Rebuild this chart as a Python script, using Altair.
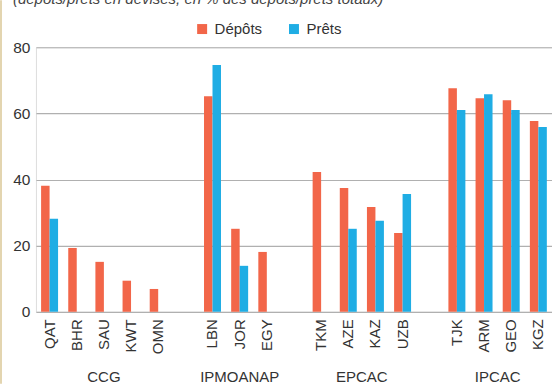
import altair as alt
import pandas as pd

countries = ["QAT", "BHR", "SAU", "KWT", "OMN",
             "LBN", "JOR", "EGY",
             "TKM", "AZE", "KAZ", "UZB",
             "TJK", "ARM", "GEO", "KGZ"]
groups = ["CCG"] * 5 + ["IPMOANAP"] * 3 + ["EPCAC"] * 4 + ["IPCAC"] * 4
depots = [38.1, 19.3, 15.1, 9.4, 6.9,
          65.2, 25.1, 18.1,
          42.3, 37.4, 31.7, 23.8,
          67.6, 64.6, 64.0, 57.7]
prets = [28.1, None, None, None, None,
         74.6, 13.9, None,
         None, 25.1, 27.5, 35.6,
         61.0, 65.8, 61.0, 55.9]

# x domain with empty spacer slots between country groups
x_domain = ["QAT", "BHR", "SAU", "KWT", "OMN", "_1",
            "LBN", "JOR", "EGY", "_2",
            "TKM", "AZE", "KAZ", "UZB", "_3",
            "TJK", "ARM", "GEO", "KGZ"]

group_names = ["CCG", "IPMOANAP", "EPCAC", "IPCAC"]
group_anchor = ["SAU", "JOR", "AZE", "ARM"]     # category under/next to group centre
group_half_shift = [False, False, True, True]   # centre falls between two categories

subtitle = ["(dépôts/prêts en devises, en % des dépôts/prêts totaux)"]

series = ["Dépôts", "Prêts"]
colors = ["#F26649", "#1FADE4"]

rows = []
for c, g, d, p in zip(countries, groups, depots, prets):
    if d is not None:
        rows.append({"pays": c, "groupe": g, "serie": "Dépôts", "valeur": d})
    if p is not None:
        rows.append({"pays": c, "groupe": g, "serie": "Prêts", "valeur": p})
df = pd.DataFrame(rows)

W, H = 517, 265
FONT = "Liberation Sans"

x_scale = alt.Scale(domain=x_domain, paddingInner=0.375, paddingOuter=0.19)

bars = alt.Chart(df).mark_bar().encode(
    x=alt.X("pays:N", scale=x_scale, sort=x_domain,
            axis=alt.Axis(title=None, labelAngle=270, labelAlign="right",
                          labelBaseline="middle", labelPadding=7,
                          labelFontSize=15, labelColor="#333333", labelFont=FONT,
                          ticks=False, domain=False, grid=False,
                          labelExpr="indexof(datum.value, '_') == 0 ? '' : datum.value")),
    xOffset=alt.XOffset("serie:N", scale=alt.Scale(domain=series)),
    y=alt.Y("valeur:Q", scale=alt.Scale(domain=[0, 80]),
            axis=alt.Axis(title=None, values=[0, 20, 40, 60, 80], ticks=False,
                          domain=False, labelFontSize=15.5, labelColor="#333333",
                          labelFont=FONT, labelPadding=6,
                          gridColor="#B0B0B0", gridWidth=1.2)),
    color=alt.Color("serie:N", scale=alt.Scale(domain=series, range=colors),
                    legend=alt.Legend(title=None, orient="none", direction="horizontal",
                                      legendX=159, legendY=-26, symbolType="square",
                                      symbolSize=100, symbolStrokeWidth=0,
                                      labelFontSize=15, labelFont=FONT,
                                      labelColor="#333333", labelOffset=5,
                                      columnPadding=24, padding=0)),
)

gdf = pd.DataFrame({"groupe": group_names, "pays": group_anchor, "shift": group_half_shift})

glabels_a = alt.Chart(gdf[~gdf["shift"]]).mark_text(
    fontSize=15, font=FONT, color="#333333", baseline="alphabetic"
).encode(
    x=alt.X("pays:N", scale=x_scale, sort=x_domain),
    y=alt.value(H + 70),
    text="groupe:N",
)
glabels_b = alt.Chart(gdf[gdf["shift"]]).mark_text(
    fontSize=15, font=FONT, color="#333333", baseline="alphabetic", dx=W / 19 / 2
).encode(
    x=alt.X("pays:N", scale=x_scale, sort=x_domain),
    y=alt.value(H + 70),
    text="groupe:N",
)

top_text = alt.Chart(pd.DataFrame({"t": subtitle})).mark_text(
    font=FONT, fontSize=15, fontStyle="italic", color="#444444",
    align="left", baseline="alphabetic"
).encode(x=alt.value(-23), y=alt.value(-43), text="t:N")

frame = alt.Chart(pd.DataFrame({"a": [0]})).mark_rule(
    color="#E3D5B0", strokeWidth=2
).encode(x=alt.value(-35), y=alt.value(-47), y2=alt.value(H + 72))

chart = alt.layer(bars, glabels_a, glabels_b, top_text, frame).properties(
    width=W, height=H,
    padding={"left": 36, "top": 47, "right": 0, "bottom": 72},
    autosize=alt.AutoSizeParams(type="none"),
).configure_view(stroke=None).configure(background="white")

chart.save("out.html", embed_options={"renderer": "svg", "actions": False})
